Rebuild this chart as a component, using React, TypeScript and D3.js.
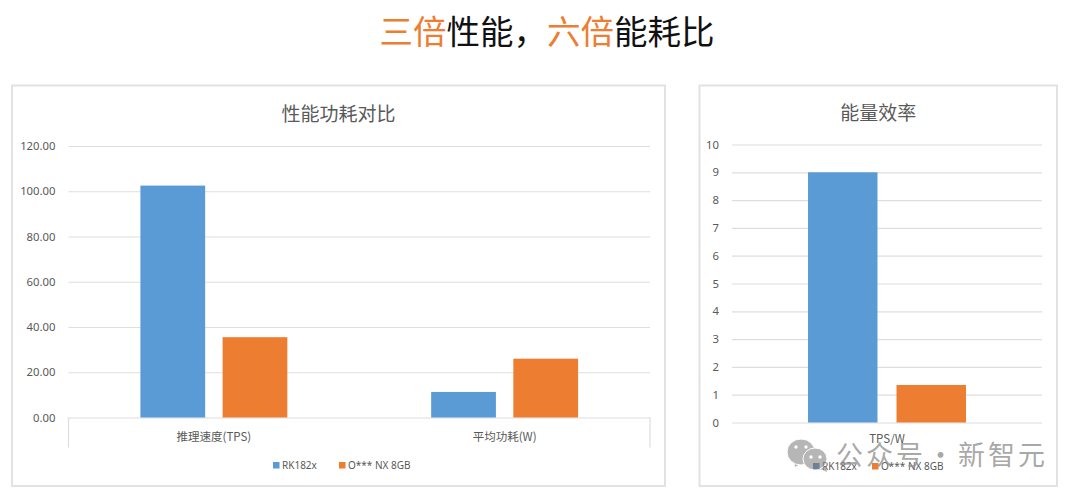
import * as d3 from "d3";
import { useEffect, useRef } from "react";

const seriesNames = ["RK182x", "O*** NX 8GB"];
const seriesColors = ["#5b9bd5", "#ed7d31"];

const perfCategories = ["推理速度(TPS)", "平均功耗(W)"];
const perfRk = [102.5, 11.3];
const perfNx = [35.5, 26];
const perfTicks = [0, 20, 40, 60, 80, 100, 120];

const effCategories = ["TPS/W"];
const effRk = [9];
const effNx = [1.35];
const effTicks = [0, 1, 2, 3, 4, 5, 6, 7, 8, 9, 10];

const cjk = "'Noto Sans CJK SC', 'Noto Sans', sans-serif";
const latin = "'Noto Sans', 'Noto Sans CJK SC', sans-serif";
const gridColor = "#dedede";
const textColor = "#595959";

function drawPanel(svg: any, opts: any) {
    const { box, x0, x1, yTop, yBottom, title, titleY, categories, values, ticks, fmt, maxY, padInner, padOuter, legendX, legendY, legendColors, catY, catBox } = opts;
    const g = svg.append("g");

    g.append("rect")
        .attr("x", box[0]).attr("y", box[1])
        .attr("width", box[2]).attr("height", box[3])
        .attr("fill", "#fff")
        .attr("stroke", "#e2e2e2")
        .attr("stroke-width", 2);

    g.append("text")
        .attr("x", (box[0] * 2 + box[2]) / 2)
        .attr("y", titleY)
        .attr("text-anchor", "middle")
        .attr("font-family", cjk)
        .attr("font-size", 19)
        .attr("fill", textColor)
        .text(title);

    const y = d3.scaleLinear().domain([0, maxY]).range([yBottom, yTop]);
    const x = d3.scaleBand<string>().domain(categories).range([x0, x1]);
    const inner = d3.scaleBand<string>()
        .domain(seriesNames)
        .range([0, x.bandwidth()])
        .paddingInner(padInner)
        .paddingOuter(padOuter);

    const yAxis = d3.axisLeft(y)
        .tickValues(ticks)
        .tickFormat(fmt)
        .tickSize(-(x1 - x0))
        .tickPadding(13);
    const yG = g.append("g").attr("transform", `translate(${x0},0)`).call(yAxis);
    yG.select(".domain").remove();
    yG.selectAll(".tick line").attr("stroke", gridColor).attr("stroke-width", 1.2);
    yG.selectAll(".tick text")
        .attr("font-family", latin)
        .attr("font-size", 11.3)
        .attr("fill", textColor);

    seriesNames.forEach((name, si) => {
        g.append("g")
            .selectAll("rect")
            .data(categories.map((c: string, i: number) => ({ c, v: values[si][i] })))
            .enter()
            .append("rect")
            .attr("x", (d: any) => (x(d.c) as number) + (inner(name) as number))
            .attr("y", (d: any) => y(d.v))
            .attr("width", inner.bandwidth())
            .attr("height", (d: any) => yBottom - y(d.v))
            .attr("fill", seriesColors[si]);
    });

    // category bracket under the axis
    if (catBox) {
        const edges = [x0, x1];
        g.selectAll("line.edge")
            .data(edges)
            .enter()
            .append("line")
            .attr("x1", (d: number) => d).attr("x2", (d: number) => d)
            .attr("y1", yBottom).attr("y2", yBottom + catBox)
            .attr("stroke", gridColor)
            .attr("stroke-width", 1.2);
    }

    g.selectAll("text.cat")
        .data(categories)
        .enter()
        .append("text")
        .attr("x", (d: string) => (x(d) as number) + x.bandwidth() / 2)
        .attr("y", catY)
        .attr("text-anchor", "middle")
        .attr("font-family", cjk)
        .attr("font-size", 11.5)
        .attr("fill", textColor)
        .text((d: string) => d);

    seriesNames.forEach((name, si) => {
        g.append("rect")
            .attr("x", legendX[si]).attr("y", legendY - 7)
            .attr("width", 6.5).attr("height", 6.5)
            .attr("fill", legendColors[si]);
        g.append("text")
            .attr("x", legendX[si] + 9).attr("y", legendY)
            .attr("font-family", latin)
            .attr("font-size", 10)
            .attr("fill", textColor)
            .text(name);
    });
}

function drawWatermark(svg: any) {
    const g = svg.append("g").attr("opacity", 0.62);
    const bubble = (cx: number, cy: number, rx: number, ry: number, fill: string) => {
        g.append("ellipse").attr("cx", cx).attr("cy", cy).attr("rx", rx).attr("ry", ry)
            .attr("fill", fill).attr("stroke", "#fff").attr("stroke-width", 1);
    };
    g.append("path").attr("d", "M794 459 l1 8 l7 -4 z").attr("fill", "#8a8a8a");
    bubble(801, 452, 14, 13, "#8a8a8a");
    g.append("path").attr("d", "M826 466 l1 6 l-7 -3 z").attr("fill", "#8a8a8a");
    bubble(815, 459, 12, 11, "#8a8a8a");
    [[796, 447], [806, 447], [811, 457], [820, 457]].forEach(([cx, cy]) => {
        g.append("circle").attr("cx", cx).attr("cy", cy).attr("r", 1.7).attr("fill", "#fff");
    });
    const mark = svg.append("text")
        .attr("y", 465)
        .attr("font-family", cjk)
        .attr("font-size", 27)
        .attr("letter-spacing", 3)
        .attr("fill", "#8c8c8c")
        .attr("fill-opacity", 0.75);
    mark.append("tspan").attr("x", 836).text("公众号");
    mark.append("tspan").attr("x", 927).text("·");
    mark.append("tspan").attr("x", 958).text("新智元");
}

function buildChart(node: SVGSVGElement) {
    const svg = d3.select(node);
    svg.selectAll("*").remove();

    const head = svg.append("text")
        .attr("x", 547).attr("y", 44)
        .attr("text-anchor", "middle")
        .attr("font-family", cjk)
        .attr("font-size", 33.5)
        .attr("fill", "#111");
    head.append("tspan").attr("fill", "#ed7d31").text("三倍");
    head.append("tspan").text("性能，");
    head.append("tspan").attr("fill", "#ed7d31").text("六倍");
    head.append("tspan").text("能耗比");

    drawPanel(svg, {
        box: [12, 85.5, 653, 400.5],
        x0: 68.5, x1: 650, yTop: 146, yBottom: 417.5,
        title: "性能功耗对比", titleY: 121,
        categories: perfCategories,
        values: [perfRk, perfNx],
        ticks: perfTicks, fmt: (d: number) => d.toFixed(2), maxY: 120,
        padInner: 0.212, padOuter: 0.875,
        legendX: [273, 339], legendY: 469, legendColors: seriesColors, catY: 441, catBox: 30,
    });

    drawPanel(svg, {
        box: [699.5, 85.5, 357.5, 400.5],
        x0: 732, x1: 1042, yTop: 144.5, yBottom: 422.5,
        title: "能量效率", titleY: 120,
        categories: effCategories,
        values: [effRk, effNx],
        ticks: effTicks, fmt: (d: number) => String(d), maxY: 10,
        padInner: 0.215, padOuter: 0.859,
        legendX: [813, 872], legendY: 470, legendColors: ["#3f70a8", seriesColors[1]], catY: 443, catBox: 0,
    });

    drawWatermark(svg);
}

export default function App() {
    const ref = useRef<SVGSVGElement>(null);
    useEffect(() => {
        if (ref.current) buildChart(ref.current);
    }, []);
    return (
        <svg
            ref={ref}
            width={1080}
            height={497}
            style={{ position: "absolute", left: 0, top: 0, background: "#fff" }}
        />
    );
}
